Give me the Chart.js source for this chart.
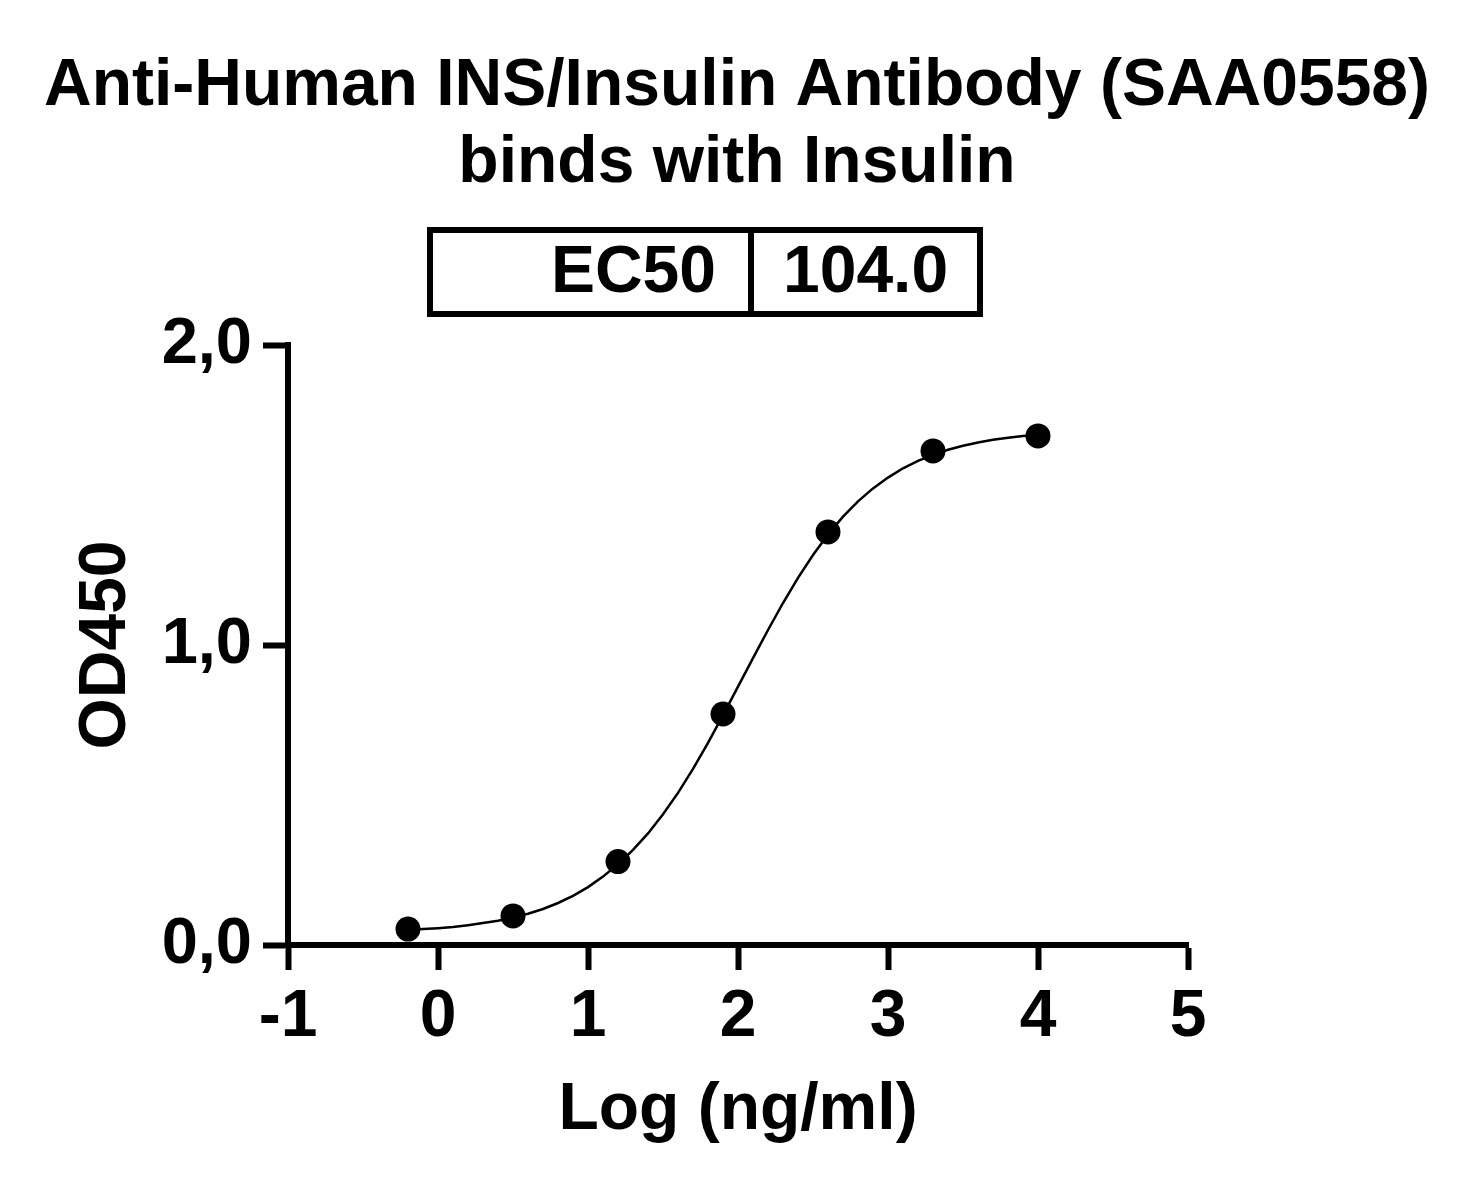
<!DOCTYPE html>
<html>
<head>
<meta charset="utf-8">
<script src="https://cdn.jsdelivr.net/npm/chart.js@4"></script>
<style>
  html, body { margin: 0; padding: 0; background: #fff; }
  #wrap { width: 1478px; height: 1194px; position: relative; }
</style>
</head>
<body>
<div id="wrap"><canvas id="myChart"></canvas></div>
<script>
// measured points (log concentration vs OD450)
const logConc = [-0.2, 0.5, 1.2, 1.9, 2.6, 3.3, 4.0];
const od450 = [0.053, 0.097, 0.278, 0.770, 1.377, 1.647, 1.697];

// fitted curve
const fitX = [-0.2, -0.1, 0.0, 0.1, 0.2, 0.3, 0.4, 0.5, 0.6, 0.7, 0.8, 0.9, 1.0, 1.1, 1.2, 1.3, 1.4,
  1.5, 1.6, 1.7, 1.8, 1.9, 2.0, 2.1, 2.2, 2.3, 2.4, 2.5, 2.6, 2.7, 2.8, 2.9, 3.0, 3.1, 3.2, 3.3,
  3.4, 3.5, 3.6, 3.7, 3.8, 3.9, 4.0];
const fitY = [0.050, 0.053, 0.056, 0.060, 0.066, 0.073, 0.081, 0.092, 0.104, 0.120, 0.140, 0.164,
  0.193, 0.228, 0.269, 0.317, 0.372, 0.436, 0.507, 0.587, 0.674, 0.766, 0.861, 0.956, 1.050,
  1.140, 1.224, 1.300, 1.368, 1.428, 1.479, 1.522, 1.558, 1.589, 1.614, 1.634, 1.651, 1.664,
  1.675, 1.684, 1.691, 1.697, 1.702];

const xTicks = [-1, 0, 1, 2, 3, 4, 5];
const xTickLabels = ["-1", "0", "1", "2", "3", "4", "5"];
const yTicks = [0, 1, 2];
const yTickLabels = ["0,0", "1,0", "2,0"];

const titleLines = ["Anti-Human INS/Insulin Antibody (SAA0558)", "binds with Insulin"];
const ec50Label = "EC50";
const ec50Value = "104.0";

const FONT = "'Liberation Sans', Arial, sans-serif";

const pointsData = logConc.map((x, i) => ({ x: x, y: od450[i] }));
const curveData = fitX.map((x, i) => ({ x: x, y: fitY[i] }));

// title and EC50 table
const headerPlugin = {
  id: "header",
  afterDraw(chart) {
    const ctx = chart.ctx;
    ctx.save();
    ctx.fillStyle = "#000";
    ctx.font = "bold 66px " + FONT;
    ctx.textAlign = "center";
    ctx.textBaseline = "alphabetic";
    ctx.fillText(titleLines[0], 737, 105);
    ctx.fillText(titleLines[1], 737, 182);

    ctx.strokeStyle = "#000";
    ctx.lineWidth = 6;
    ctx.strokeRect(430, 230, 550, 84);
    ctx.beginPath();
    ctx.moveTo(751, 230);
    ctx.lineTo(751, 314);
    ctx.stroke();

    ctx.textAlign = "right";
    ctx.fillText(ec50Label, 716, 292);
    ctx.textAlign = "left";
    ctx.fillText(ec50Value, 783, 292);
    ctx.restore();
  }
};

const data = {
  datasets: [
    {
      label: "OD450",
      data: pointsData,
      showLine: false,
      pointRadius: 12.5,
      pointBackgroundColor: "#000",
      pointBorderWidth: 0,
      order: 0
    },
    {
      label: "fit",
      data: curveData,
      showLine: true,
      borderColor: "#000",
      borderWidth: 2.5,
      pointRadius: 0,
      tension: 0,
      fill: false,
      order: 1
    }
  ]
};

const config = {
  type: "scatter",
  data: data,
  plugins: [headerPlugin],
  options: {
    responsive: true,
    maintainAspectRatio: false,
    animation: false,
    layout: { padding: { left: 0, top: 345, right: 290, bottom: 0 } },
    plugins: {
      legend: { display: false },
      tooltip: { enabled: false }
    },
    scales: {
      x: {
        type: "linear",
        min: -1,
        max: 5,
        afterBuildTicks: (scale) => { scale.ticks = xTicks.map(v => ({ value: v })); },
        afterFit: (scale) => { scale.height = 249; },
        ticks: {
          color: "#000",
          padding: 8,
          font: { family: FONT, size: 66, weight: "bold" },
          callback: (v) => xTickLabels[xTicks.indexOf(v)]
        },
        grid: {
          drawOnChartArea: false,
          drawTicks: true,
          tickLength: 25,
          tickWidth: 6,
          tickColor: "#000"
        },
        border: { display: true, width: 6, color: "#000" },
        title: {
          display: true,
          text: "Log (ng/ml)",
          color: "#000",
          font: { family: FONT, size: 66, weight: "bold" },
          padding: { top: 0, bottom: 44 }
        }
      },
      y: {
        type: "linear",
        min: 0,
        max: 2,
        afterBuildTicks: (scale) => { scale.ticks = yTicks.map(v => ({ value: v })); },
        afterFit: (scale) => { scale.width = 288; },
        ticks: {
          color: "#000",
          padding: 11,
          font: { family: FONT, size: 65, weight: "bold" },
          callback: (v) => yTickLabels[yTicks.indexOf(v)]
        },
        grid: {
          drawOnChartArea: false,
          drawTicks: true,
          tickLength: 25,
          tickWidth: 6,
          tickColor: "#000"
        },
        border: { display: true, width: 6, color: "#000" },
        title: {
          display: true,
          text: "OD450",
          color: "#000",
          font: { family: FONT, size: 66, weight: "bold" },
          padding: { top: 67, bottom: 0 }
        }
      }
    }
  }
};

const myChart = new Chart(document.getElementById("myChart"), config);
</script>
</body>
</html>
